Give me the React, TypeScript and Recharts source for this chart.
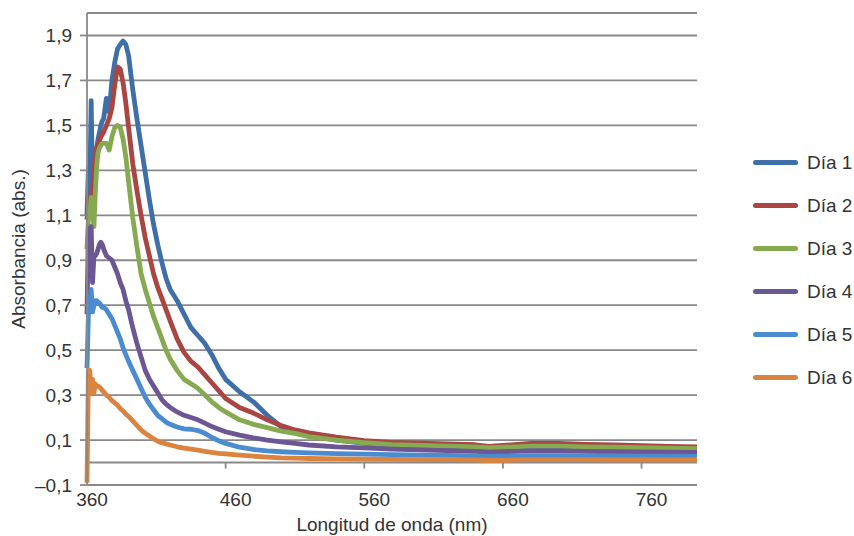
import { LineChart, Line, XAxis, YAxis, CartesianGrid, ReferenceLine, Legend, Label } from 'recharts'

// longitud de onda (nm)
const wavelengths = [
  360, 361, 362, 363, 364, 365, 366, 367, 368, 369, 370, 371, 372,
  374, 376, 378, 380, 382, 384, 386, 388, 390,
  393, 396, 399, 402, 405, 408, 411, 414, 417, 420,
  425, 430, 435, 440, 445, 450, 455, 460,
  470, 480, 490, 500, 510, 520,
  540, 560, 580, 600, 620, 640, 650, 660, 680, 700, 720, 740, 760, 780, 800,
]

const dia1 = [
  1.1, 1.31, 1.22, 1.61, 1.2, 1.17, 1.3, 1.4, 1.44, 1.47, 1.5, 1.52, 1.53,
  1.62, 1.56, 1.7, 1.78, 1.84, 1.86, 1.875, 1.86, 1.81,
  1.66, 1.53, 1.41, 1.29, 1.17, 1.06, 0.97, 0.89, 0.82, 0.77,
  0.72, 0.66, 0.6, 0.565, 0.53, 0.48, 0.42, 0.37,
  0.315, 0.27, 0.21, 0.16, 0.135, 0.12,
  0.1, 0.085, 0.075, 0.068, 0.063, 0.06, 0.056, 0.057, 0.06, 0.06, 0.058, 0.056, 0.055, 0.054, 0.053,
]

const dia2 = [
  1.08, 1.14, 1.18, 1.1, 1.2, 1.3, 1.37, 1.4, 1.42, 1.43, 1.45, 1.46, 1.47,
  1.5, 1.53, 1.58, 1.68, 1.76, 1.75, 1.69, 1.6, 1.49,
  1.33, 1.21, 1.1, 1.0, 0.92, 0.84, 0.78, 0.73, 0.68, 0.63,
  0.55, 0.49, 0.45, 0.425, 0.39, 0.355, 0.32, 0.285,
  0.245, 0.22, 0.19, 0.165, 0.145, 0.132,
  0.113, 0.097, 0.09, 0.086, 0.083, 0.079, 0.072, 0.076, 0.085, 0.085, 0.081, 0.078, 0.075, 0.072, 0.07,
]

const dia3 = [
  0.95, 1.08, 1.1, 1.18, 1.12, 1.05, 1.2, 1.32, 1.38, 1.4, 1.41, 1.42, 1.42,
  1.42, 1.39, 1.45, 1.49, 1.5, 1.49, 1.44, 1.36, 1.25,
  1.09, 0.96, 0.84, 0.77, 0.71, 0.65, 0.6, 0.55, 0.5, 0.46,
  0.41, 0.37, 0.35, 0.33, 0.3, 0.27, 0.245, 0.225,
  0.19, 0.17, 0.155, 0.14, 0.13, 0.115,
  0.1, 0.088, 0.08, 0.076, 0.073, 0.07, 0.066, 0.068, 0.073, 0.073, 0.07, 0.068, 0.066, 0.064, 0.062,
]

const dia4 = [
  0.66, 1.04, 0.85, 1.05, 0.8, 0.92, 0.92, 0.93, 0.95, 0.97, 0.98, 0.97, 0.95,
  0.92, 0.91, 0.9, 0.87, 0.84, 0.8, 0.77, 0.72, 0.68,
  0.6, 0.53, 0.47, 0.41, 0.37, 0.34, 0.31, 0.28, 0.26, 0.245,
  0.225, 0.21, 0.2, 0.19, 0.175, 0.16, 0.148, 0.137,
  0.122, 0.11, 0.1, 0.092, 0.085, 0.078,
  0.07, 0.065, 0.06, 0.056, 0.053, 0.05, 0.046, 0.048, 0.052, 0.052, 0.05, 0.048, 0.047, 0.046, 0.045,
]

const dia5 = [
  0.42, 0.66, 0.7, 0.77, 0.67, 0.7, 0.72, 0.72, 0.71, 0.71, 0.7, 0.69, 0.69,
  0.68, 0.66, 0.64, 0.61, 0.58, 0.55, 0.51, 0.48, 0.45,
  0.41, 0.37, 0.33, 0.29, 0.26, 0.235, 0.21, 0.195, 0.18, 0.17,
  0.158, 0.15, 0.148, 0.142, 0.13, 0.112, 0.097, 0.085,
  0.068, 0.058, 0.052, 0.048, 0.045, 0.043,
  0.04, 0.037, 0.035, 0.033, 0.032, 0.03, 0.027, 0.028, 0.031, 0.031, 0.03, 0.029, 0.028, 0.028, 0.027,
]

const dia6 = [
  -0.09, 0.4, 0.41, 0.31, 0.37, 0.31, 0.35, 0.34, 0.34, 0.335, 0.33, 0.32, 0.315,
  0.3, 0.29, 0.275, 0.265, 0.255, 0.24, 0.23, 0.215, 0.205,
  0.185, 0.165, 0.145, 0.13, 0.118, 0.105, 0.095, 0.088, 0.083, 0.078,
  0.07, 0.064, 0.06, 0.055, 0.05, 0.045, 0.041, 0.038,
  0.033, 0.028, 0.024, 0.021, 0.02, 0.018,
  0.016, 0.015, 0.014, 0.013, 0.013, 0.012, 0.009, 0.01, 0.013, 0.013, 0.013, 0.012, 0.012, 0.012, 0.012,
]

const seriesNames = ['Día 1', 'Día 2', 'Día 3', 'Día 4', 'Día 5', 'Día 6']
const seriesColors = ['#3E6FA8', '#A94642', '#86AA50', '#6C5794', '#4B8CD0', '#DB8440']
const seriesValues = [dia1, dia2, dia3, dia4, dia5, dia6]

const yTicks = [-0.1, 0.1, 0.3, 0.5, 0.7, 0.9, 1.1, 1.3, 1.5, 1.7, 1.9]
const xTicks = [360, 460, 560, 660, 760]

const font = '"Liberation Sans", Arial, sans-serif'
const gridColor = '#898989'
const textColor = '#333'

const data = wavelengths.map((wl, i) => {
  const row: Record<string, number> = { wl }
  seriesValues.forEach((s, k) => {
    row[`d${k + 1}`] = s[i]
  })
  return row
})

const fmtY = (v: number) => v.toFixed(1).replace('.', ',').replace('-', '–')

function XTick({ x, y, payload }: any) {
  const shift = payload.value === 360 ? 5 : 10
  return (
    <text x={x + shift} y={y} dy="0.71em" textAnchor="middle" fontSize={19} fill={textColor} fontFamily={font}>
      {payload.value}
    </text>
  )
}

const renderLegend = (props: any) => (
  <div style={{ fontFamily: font, fontSize: 19, color: textColor }}>
    {(props.payload || []).map((entry: any) => (
      <div key={entry.value} style={{ display: 'flex', alignItems: 'center', height: 43 }}>
        <span style={{ display: 'inline-block', width: 45, height: 5, borderRadius: 3, background: entry.color, marginRight: 9 }} />
        <span>{entry.value}</span>
      </div>
    ))}
  </div>
)

export default function App() {
  return (
    <div style={{ position: 'absolute', left: 0, top: 0 }}>
      <LineChart width={854} height={536} data={data} margin={{ top: 13, right: 157, bottom: 0, left: 0 }}>
        <CartesianGrid vertical={false} stroke={gridColor} strokeWidth={1.8} />
        <XAxis
          dataKey="wl"
          type="number"
          domain={[360, 800]}
          ticks={xTicks}
          axisLine={false}
          tickLine={false}
          tickSize={0}
          tickMargin={8}
          height={51}
          tick={<XTick />}
        >
          <Label value="Longitud de onda (nm)" position="insideBottom" offset={5} style={{ fontSize: 19, fill: textColor, fontFamily: font }} />
        </XAxis>
        <YAxis
          type="number"
          domain={[-0.1, 2.0]}
          ticks={yTicks}
          width={87}
          tickFormatter={fmtY}
          stroke={gridColor}
          strokeWidth={1.8}
          tickSize={7}
          tickMargin={8}
          tick={{ fontSize: 19, fill: textColor, fontFamily: font }}
        >
          <Label value="Absorbancia (abs.)" angle={-90} position="insideLeft" offset={18} style={{ fontSize: 19, fill: textColor, fontFamily: font, textAnchor: 'middle' }} />
        </YAxis>
        <ReferenceLine y={0} stroke={gridColor} strokeWidth={1.8} />
        {xTicks.slice(1).map((t) => (
          <ReferenceLine key={t} segment={[{ x: t, y: 0 }, { x: t, y: -0.027 }]} stroke={gridColor} strokeWidth={1.8} />
        ))}
        {seriesNames.map((name, k) => (
          <Line
            key={name}
            type="linear"
            dataKey={`d${k + 1}`}
            name={name}
            stroke={seriesColors[k]}
            strokeWidth={4.8}
            strokeLinejoin="round"
            dot={false}
            isAnimationActive={false}
          />
        ))}
        <Legend
          layout="vertical"
          align="center"
          verticalAlign="middle"
          content={renderLegend}
          wrapperStyle={{ position: 'absolute', left: 753, top: 141, width: 101 }}
        />
      </LineChart>
    </div>
  )
}
